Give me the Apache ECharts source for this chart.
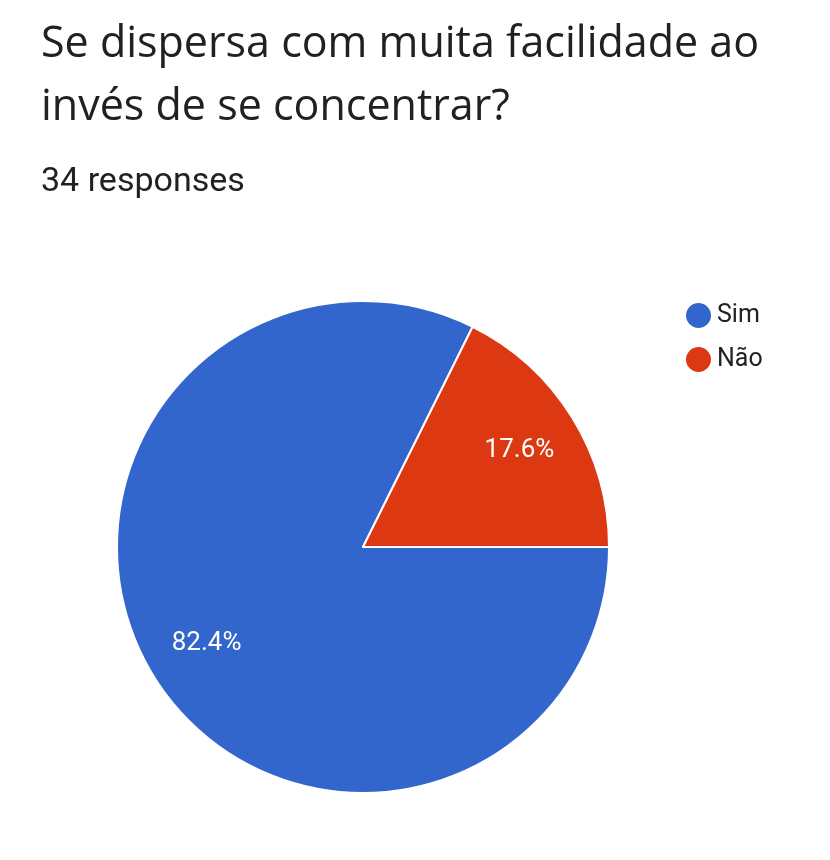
<!DOCTYPE html>
<html>
<head>
<meta charset="utf-8">
<script src="https://cdn.jsdelivr.net/npm/echarts@6/dist/echarts.min.js"></script>
<style>
  html, body { margin: 0; padding: 0; background: #fff; }
  #chart { width: 830px; height: 860px; }
</style>
</head>
<body>
<div id="chart"></div>
<script>
var categories = ['Sim', 'Não'];
var counts = [28, 6];
var colors = ['#3366cc', '#dc3912'];

var pieData = categories.map((name, i) => ({
    name: name,
    value: counts[i],
    itemStyle: { color: colors[i] }
}));

var chart = echarts.init(document.getElementById('chart'));
chart.setOption({
    animation: false,
    title: [{
        text: 'Se dispersa com muita facilidade ao\ninvés de se concentrar?',
        left: 36,
        top: 8,
        textStyle: {
            fontFamily: 'Open Sans',
            fontWeight: 'normal',
            fontSize: 43,
            lineHeight: 63,
            color: '#202124'
        }
    }, {
        text: '34 responses',
        left: 36,
        top: 160,
        textStyle: {
            fontFamily: 'Roboto',
            fontWeight: 'normal',
            fontSize: 34,
            color: '#202124'
        }
    }],
    legend: {
        orient: 'vertical',
        left: 679,
        top: 296,
        icon: 'circle',
        itemWidth: 27,
        itemHeight: 27,
        itemGap: 15,
        data: categories,
        textStyle: {
            fontFamily: 'Roboto',
            fontSize: 25,
            color: '#222222'
        }
    },
    series: [{
        type: 'pie',
        center: [363, 547],
        radius: [0, 246],
        startAngle: 0,
        clockwise: true,
        silent: true,
        data: pieData,
        label: { show: false },
        labelLine: { show: false },
        itemStyle: { borderColor: '#ffffff', borderWidth: 2 }
    }, {
        // label ring: puts the percentages about 3/4 of the way out
        type: 'pie',
        center: [363, 547],
        radius: [116, 246],
        startAngle: 0,
        clockwise: true,
        silent: true,
        legendHoverLink: false,
        percentPrecision: 1,
        data: categories.map((name, i) => ({ name: name, value: counts[i] })),
        itemStyle: { color: 'rgba(0,0,0,0)' },
        label: {
            show: true,
            position: 'inside',
            formatter: '{d}%',
            fontFamily: 'Roboto',
            fontSize: 26,
            color: '#ffffff'
        },
        labelLine: { show: false }
    }]
});
</script>
</body>
</html>
